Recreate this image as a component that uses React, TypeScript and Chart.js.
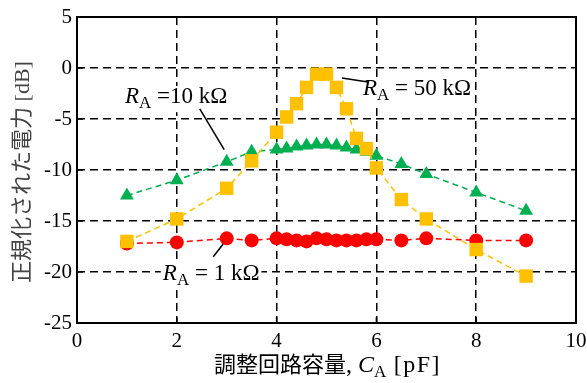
import React, { useEffect, useRef } from "react";
import { Chart, registerables } from "chart.js";

Chart.register(...registerables);

const capacitance = [1, 2, 3, 3.5, 4, 4.2, 4.4, 4.6, 4.8, 5, 5.2, 5.4, 5.6, 5.8, 6, 6.5, 7, 8, 9];
const power1k = [-17.2, -17.1, -16.7, -16.9, -16.7, -16.8, -16.9, -17.0, -16.7, -16.8, -16.9, -16.9, -16.9, -16.8, -16.8, -16.9, -16.7, -16.9, -16.9];
const power10k = [-12.5, -11.0, -9.2, -8.2, -8.0, -7.9, -7.7, -7.6, -7.5, -7.5, -7.6, -7.8, -8.0, -8.2, -8.6, -9.4, -10.4, -12.2, -14.0];
const power50k = [-17.0, -14.8, -11.8, -9.1, -6.3, -4.8, -3.5, -1.9, -0.6, -0.6, -1.9, -4.0, -6.9, -7.9, -9.8, -12.9, -14.8, -17.8, -20.4];

const xTitleJa = "調整回路容量";
const yTitle = "正規化された電力 [dB]";
const label1k = " = 1 kΩ";
const label10k = " =10 kΩ";
const label50k = " = 50 kΩ";

const SERIF = "'Liberation Serif', 'Times New Roman', 'Noto Sans CJK JP', serif";

type Part = { text: string; italic?: boolean; sub?: boolean; size?: number; spacing?: number };

function measureRich(ctx: CanvasRenderingContext2D, parts: Part[], size: number) {
  const fontFor = (p: Part) => `${p.italic ? "italic " : ""}${p.sub ? Math.round(size * 0.72) : p.size || size}px ${SERIF}`;
  const widths = parts.map((p) => {
    ctx.font = fontFor(p);
    (ctx as any).letterSpacing = `${p.spacing || 0}px`;
    const w = ctx.measureText(p.text).width;
    (ctx as any).letterSpacing = "0px";
    return w;
  });
  return { widths, total: widths.reduce((a, b) => a + b, 0), fontFor };
}

function drawRich(ctx: CanvasRenderingContext2D, parts: Part[], x: number, y: number, size: number, align: "left" | "center") {
  const { widths, total, fontFor } = measureRich(ctx, parts, size);
  let cx = align === "center" ? x - total / 2 : x;
  ctx.textBaseline = "alphabetic";
  ctx.textAlign = "left";
  parts.forEach((p, i) => {
    ctx.font = fontFor(p);
    (ctx as any).letterSpacing = `${p.spacing || 0}px`;
    ctx.fillText(p.text, cx, p.sub ? y + size * 0.22 : y);
    (ctx as any).letterSpacing = "0px";
    cx += widths[i];
  });
}

const annotations = [
  { parts: [{ text: "R", italic: true }, { text: "A", sub: true }, { text: label10k }], x: 0.96, y: -3.45, line: [2.46, -4.0, 2.95, -8.0] },
  { parts: [{ text: "R", italic: true }, { text: "A", sub: true }, { text: label50k }], x: 5.73, y: -2.65, line: [5.31, -0.98, 5.83, -1.37] },
  { parts: [{ text: "R", italic: true }, { text: "A", sub: true }, { text: label1k }], x: 1.72, y: -20.8, line: [2.73, -18.5, 2.93, -17.25] },
];

const overlay = {
  id: "overlay",
  beforeDatasetsDraw(chart: any) {
    const ctx: CanvasRenderingContext2D = chart.ctx;
    const xs = chart.scales.x;
    const ys = chart.scales.y;
    ctx.save();
    ctx.strokeStyle = "#000";
    ctx.fillStyle = "#000";
    ctx.lineWidth = 1.5;
    ctx.setLineDash([]);
    annotations.forEach((a) => {
      const size = 23;
      const tx = xs.getPixelForValue(a.x);
      const ty = ys.getPixelForValue(a.y);
      const { total } = measureRich(ctx, a.parts as Part[], size);
      ctx.fillStyle = "#fff";
      ctx.fillRect(tx - 2, ty - size * 0.75, total + 4, size * 0.75 + 9);
      ctx.fillStyle = "#000";
      ctx.beginPath();
      ctx.moveTo(xs.getPixelForValue(a.line[0]), ys.getPixelForValue(a.line[1]));
      ctx.lineTo(xs.getPixelForValue(a.line[2]), ys.getPixelForValue(a.line[3]));
      ctx.stroke();
      drawRich(ctx, a.parts as Part[], tx, ty, size, "left");
    });
    ctx.restore();
  },
  afterDraw(chart: any) {
    const ctx: CanvasRenderingContext2D = chart.ctx;
    const { left, right, top, bottom } = chart.chartArea;
    const xs = chart.scales.x;
    const ys = chart.scales.y;
    ctx.save();
    ctx.strokeStyle = "#000";
    ctx.lineWidth = 2;
    ctx.setLineDash([]);
    ctx.strokeRect(left, top, right - left, bottom - top);
    ctx.lineWidth = 1.5;
    ys.ticks.forEach((t: any) => {
      const py = ys.getPixelForValue(t.value);
      ctx.beginPath();
      ctx.moveTo(left, py);
      ctx.lineTo(left + 6, py);
      ctx.stroke();
    });
    xs.ticks.forEach((t: any) => {
      const px = xs.getPixelForValue(t.value);
      ctx.beginPath();
      ctx.moveTo(px, bottom);
      ctx.lineTo(px, bottom - 6);
      ctx.stroke();
    });
    ctx.fillStyle = "#000";
    // x title
    drawRich(
      ctx,
      [
        { text: xTitleJa, size: 22 },
        { text: ", " },
        { text: "C", italic: true },
        { text: "A", sub: true },
        { text: " [pF]", spacing: 1.5 },
      ],
      (left + right) / 2 + 1,
      372,
      24,
      "center"
    );
    // y title
    ctx.save();
    ctx.translate(23, (top + bottom) / 2 + 2);
    ctx.rotate(-Math.PI / 2);
    ctx.font = `22px ${SERIF}`;
    ctx.textAlign = "center";
    ctx.textBaseline = "middle";
    ctx.fillStyle = "#444";
    ctx.fillText(yTitle, 0, 0);
    ctx.restore();
    ctx.restore();
  },
};

export default function App() {
  const ref = useRef<HTMLCanvasElement | null>(null);
  useEffect(() => {
    if (!ref.current) return;
    const mk = (vals: number[]) => capacitance.map((c, i) => ({ x: c, y: vals[i] }));
    const chart = new Chart(ref.current, {
      type: "line",
      data: {
        datasets: [
          {
            label: "50k",
            data: mk(power50k),
            borderColor: "#FFC000",
            backgroundColor: "#FFC000",
            pointStyle: "rect",
            pointRadius: 9.5,
            pointBorderWidth: 0,
            borderWidth: 1.5,
            borderDash: [6, 4],
          },
          {
            label: "10k",
            data: mk(power10k),
            borderColor: "#00B050",
            backgroundColor: "#00B050",
            pointStyle: "triangle",
            pointRadius: 8,
            pointBorderWidth: 0,
            borderWidth: 1.5,
            borderDash: [6, 4],
          },
          {
            label: "1k",
            data: mk(power1k),
            borderColor: "#FF0000",
            backgroundColor: "#FF0000",
            pointStyle: "circle",
            pointRadius: 7,
            pointBorderWidth: 0,
            borderWidth: 1.5,
            borderDash: [6, 4],
          },
        ],
      },
      options: {
        animation: false,
        responsive: false,
        devicePixelRatio: 1,
        layout: { padding: { top: 17, right: 11, left: 0, bottom: 0 } },
        plugins: { legend: { display: false }, tooltip: { enabled: false } },
        scales: {
          x: {
            type: "linear",
            min: 0,
            max: 10,
            ticks: { stepSize: 2, color: "#000", padding: 6, font: { family: SERIF, size: 21 }, maxRotation: 0 },
            grid: { color: "#000", lineWidth: 1.5, drawTicks: false },
            border: { display: false, dash: [8, 5] },
            afterFit: (s: any) => { s.height = 60; s.paddingLeft = 0; s.paddingRight = 0; },
          },
          y: {
            type: "linear",
            min: -25,
            max: 5,
            ticks: { stepSize: 5, color: "#000", padding: 5, font: { family: SERIF, size: 21 } },
            grid: { color: "#000", lineWidth: 1.5, drawTicks: false },
            border: { display: false, dash: [8, 5] },
            afterFit: (s: any) => { s.width = 77; s.paddingTop = 0; s.paddingBottom = 0; },
          },
        },
      },
      plugins: [overlay],
    } as any);
    return () => chart.destroy();
  }, []);
  return (
    <div style={{ position: "absolute", left: 0, top: 0, width: 587, height: 383, background: "#fff" }}>
      <canvas ref={ref} width={587} height={383} style={{ width: 587, height: 383 }} />
    </div>
  );
}
